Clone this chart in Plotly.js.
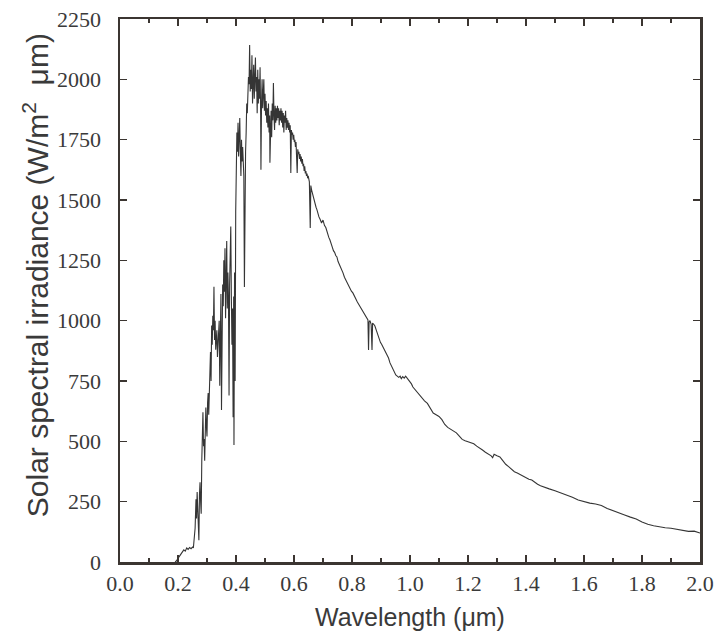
<!DOCTYPE html>
<html>
<head>
<meta charset="utf-8">
<script src="https://cdn.plot.ly/plotly-3.0.1.min.js"></script>
<style>html,body{margin:0;padding:0;background:#fff;}#chart{width:717px;height:639px;}</style>
</head>
<body>
<div id="chart"></div>
<script>
// Wavelength (µm)
const wavelength = [
0.190,0.195,0.200,0.205,0.210,0.215,0.220,0.225,0.230,0.235,0.240,0.245,0.250,0.253,0.256,0.259,0.262,0.264,0.266,0.268,
0.270,0.272,0.274,0.276,0.278,0.280,0.282,0.284,0.286,0.288,0.290,0.292,0.294,0.296,0.298,0.300,0.302,0.304,0.306,0.308,
0.310,0.312,0.314,0.316,0.318,0.320,0.322,0.324,0.326,0.328,0.330,0.332,0.334,0.336,0.338,0.340,0.342,0.344,0.346,0.348,
0.350,0.352,0.354,0.356,0.358,0.360,0.362,0.364,0.366,0.368,0.370,0.372,0.374,0.376,0.378,0.380,0.382,0.384,0.386,0.388,
0.390,0.392,0.393,0.395,0.397,0.399,0.401,0.403,0.405,0.407,0.409,0.411,0.413,0.415,0.417,0.419,0.421,0.423,0.425,0.427,
0.429,0.431,0.433,0.435,0.437,0.439,0.441,0.443,0.445,0.447,0.449,0.451,0.453,0.455,0.457,0.459,0.461,0.463,0.465,0.467,
0.469,0.471,0.473,0.475,0.477,0.479,0.481,0.483,0.485,0.486,0.488,0.490,0.492,0.494,0.496,0.498,0.500,0.502,0.504,0.506,
0.508,0.510,0.512,0.514,0.516,0.517,0.519,0.521,0.523,0.525,0.527,0.529,0.531,0.533,0.535,0.537,0.539,0.541,0.543,0.545,
0.547,0.549,0.551,0.553,0.555,0.557,0.559,0.561,0.563,0.565,0.567,0.569,0.571,0.573,0.575,0.577,0.579,0.581,0.583,0.585,
0.587,0.589,0.591,0.593,0.595,0.597,0.599,0.601,0.603,0.605,0.607,0.609,0.611,0.613,0.615,0.617,0.619,0.621,0.623,0.625,
0.627,0.629,0.631,0.633,0.635,0.637,0.639,0.641,0.643,0.645,0.647,0.649,0.651,0.653,0.656,0.658,0.661,0.664,0.667,0.670,
0.673,0.676,0.679,0.682,0.686,0.690,0.695,0.700,0.705,0.710,0.715,0.720,0.724,0.728,0.732,0.736,0.740,0.744,0.748,0.752,
0.756,0.760,0.764,0.769,0.774,0.778,0.783,0.788,0.793,0.798,0.803,0.808,0.813,0.818,0.823,0.828,0.834,0.840,0.845,0.850,
0.855,0.857,0.859,0.862,0.866,0.869,0.871,0.875,0.879,0.884,0.889,0.893,0.898,0.903,0.907,0.912,0.917,0.921,0.926,0.931,
0.936,0.941,0.946,0.951,0.956,0.961,0.966,0.970,0.975,0.980,0.985,0.990,0.995,1.000,1.005,1.010,1.020,1.030,1.040,1.050,
1.060,1.070,1.080,1.090,1.100,1.110,1.120,1.130,1.140,1.150,1.160,1.170,1.180,1.190,1.200,1.210,1.220,1.230,1.240,1.250,
1.260,1.270,1.280,1.285,1.290,1.300,1.310,1.320,1.330,1.340,1.350,1.360,1.370,1.380,1.390,1.400,1.410,1.420,1.430,1.440,
1.450,1.460,1.480,1.500,1.520,1.540,1.560,1.580,1.600,1.620,1.640,1.660,1.680,1.700,1.720,1.740,1.760,1.780,1.800,1.820,
1.840,1.860,1.880,1.900,1.920,1.940,1.960,1.980,2.000
];
// Solar spectral irradiance (W/m² µm)
const irradiance = [
0,5,15,25,35,42,50,45,58,52,60,55,62,58,110,140,260,180,290,220,
150,90,280,330,250,200,420,540,620,480,510,420,560,640,560,520,660,700,610,760,
830,870,750,980,900,1020,960,1140,920,1000,880,950,960,850,900,960,1000,730,990,1110,
630,1000,1150,1060,1250,1120,1300,1010,1190,1330,1050,1200,1100,690,1150,1280,1390,1100,900,1050,
600,1100,485,1200,750,1450,1650,1780,1700,1820,1680,1760,1840,1700,1600,1750,1660,1720,1680,1600,
1140,1640,1700,1780,1900,1860,1950,2010,1980,2142,1950,2040,1960,2100,1900,1990,2060,1920,1980,2090,
1950,2010,1860,2040,1900,2000,1920,2050,1850,1625,1900,2000,1880,1960,2000,1870,1940,1850,1910,1820,
1880,1800,1900,1780,1850,1654,1800,1870,1760,1900,1830,1985,1850,1790,1890,1820,1880,1830,1890,1840,
1880,1810,1870,1830,1880,1820,1870,1800,1860,1780,1850,1820,1870,1790,1840,1800,1830,1790,1820,1780,
1810,1612,1790,1770,1780,1750,1770,1740,1750,1720,1740,1700,1612,1710,1690,1700,1670,1690,1660,1680,
1650,1670,1640,1650,1620,1640,1610,1620,1600,1610,1590,1600,1585,1575,1384,1560,1540,1525,1505,1495,
1480,1470,1460,1445,1430,1420,1405,1417,1395,1385,1360,1345,1334,1315,1305,1290,1283,1270,1264,1245,
1235,1222,1212,1198,1180,1170,1155,1145,1130,1122,1115,1100,1090,1078,1068,1058,1044,1030,1022,1010,
1003,879,995,1000,985,879,990,985,978,960,940,925,910,900,891,880,870,862,845,825,
812,800,785,775,770,765,770,760,768,762,770,762,755,745,738,725,710,695,680,668,
657,635,617,610,603,590,570,558,550,545,535,522,508,502,498,495,490,480,470,464,
455,448,440,432,446,440,435,420,405,395,385,374,369,362,355,350,343,340,330,322,
316,311,303,295,287,278,268,257,249,244,240,234,222,212,205,195,186,178,166,156,
150,145,142,140,136,133,127,128,120
];
const xTickVals = [0,0.2,0.4,0.6,0.8,1.0,1.2,1.4,1.6,1.8,2.0];
const yTickVals = [0,250,500,750,1000,1250,1500,1750,2000,2250];
const xTitle = 'Wavelength (μm)';
const yTitle = 'Solar spectral irradiance (W/m<sup>2</sup>  μm)';

const axisCol = '#3b3531';
const textCol = '#3a3a3a';
const serif = 'Liberation Serif, Times New Roman, serif';
const sans = 'Liberation Sans, Arial, sans-serif';

Plotly.newPlot('chart', [{
  x: wavelength, y: irradiance, type: 'scatter', mode: 'lines',
  line: {color: '#353535', width: 1.1}, hoverinfo: 'skip'
}], {
  width: 717, height: 639,
  margin: {l: 120, r: 17, t: 19, b: 77},
  paper_bgcolor: '#ffffff', plot_bgcolor: '#ffffff',
  showlegend: false,
  xaxis: {
    range: [0, 2], tickvals: xTickVals, tickformat: '.1f',
    ticks: 'inside', ticklen: 7, tickwidth: 1.2, tickcolor: axisCol,
    minor: {dtick: 0.1, tick0: 0, ticks: 'inside', ticklen: 4, tickcolor: axisCol, showgrid: false},
    showline: true, linecolor: axisCol, linewidth: 2.5, mirror: 'ticks',
    showgrid: false, zeroline: false,
    tickfont: {family: serif, size: 22, color: textCol},
    title: {text: xTitle, font: {family: sans, size: 25, color: textCol}, standoff: 14}
  },
  yaxis: {
    range: [0, 2250], tickvals: yTickVals,
    ticks: 'inside', ticklen: 7, tickwidth: 1.2, tickcolor: axisCol,
    showline: true, linecolor: axisCol, linewidth: 2.5, mirror: 'ticks',
    showgrid: false, zeroline: false, ticklabelstandoff: 12,
    tickfont: {family: serif, size: 22, color: textCol}
  },
  annotations: [{
    text: yTitle, xref: 'paper', yref: 'paper', x: -0.145, y: 0.528,
    xanchor: 'center', yanchor: 'middle', textangle: -90, showarrow: false,
    font: {family: sans, size: 30, color: textCol}
  }]
}, {staticPlot: true, displayModeBar: false});
</script>
</body>
</html>
